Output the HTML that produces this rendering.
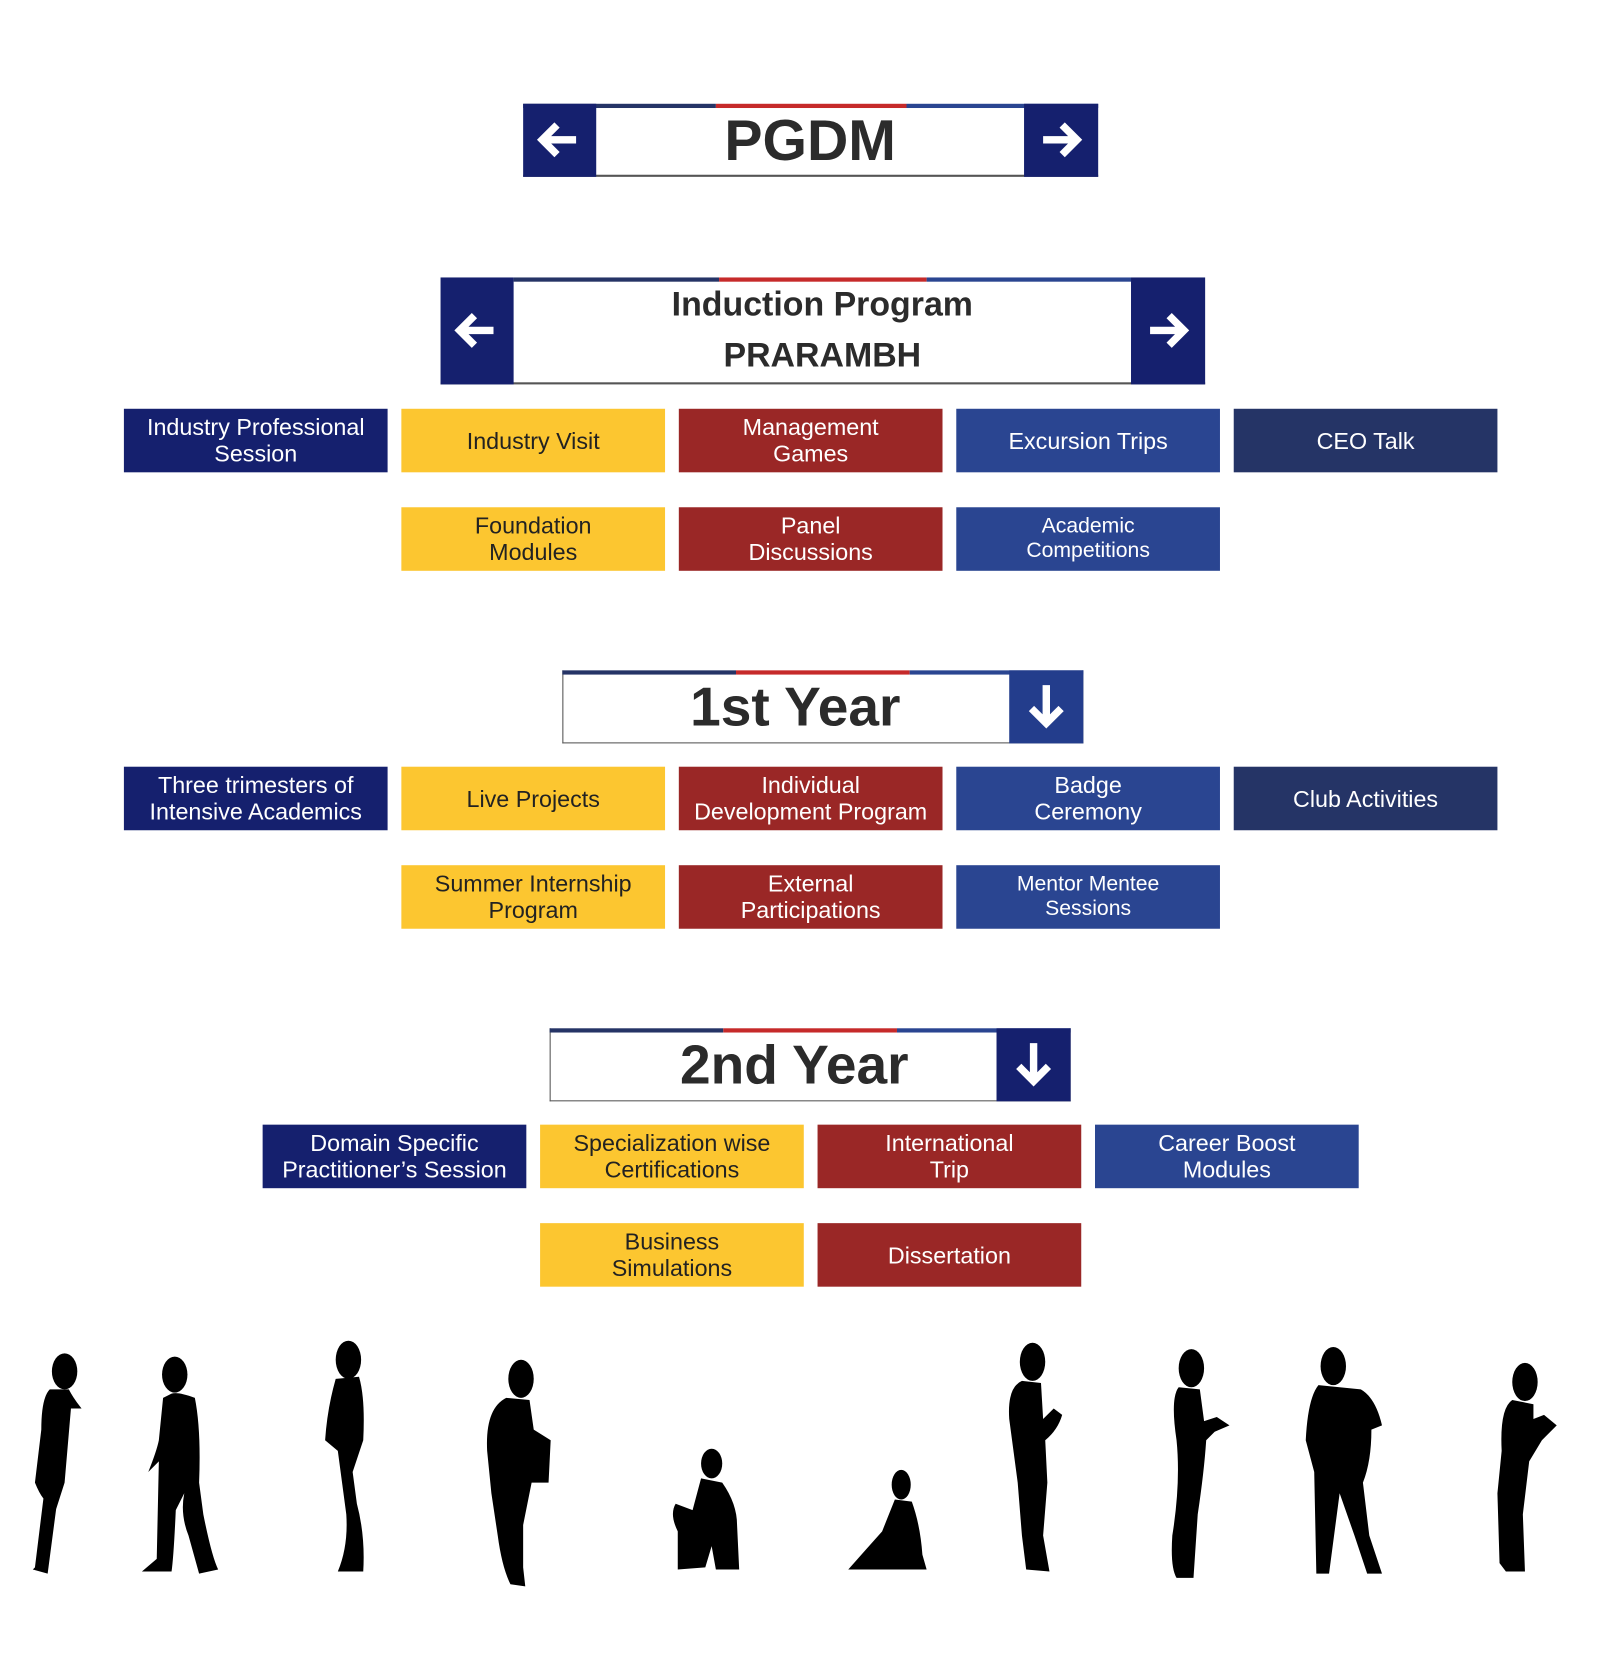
<!DOCTYPE html>
<html><head><meta charset="utf-8"><style>
html,body{margin:0;padding:0;background:#fff;width:1600px;height:1660px;overflow:hidden}
#s{position:absolute;left:0;top:0;width:1511px;height:1568px;transform:scale(1.059);transform-origin:0 0;font-family:"Liberation Sans","DejaVu Sans",sans-serif}
.b{position:absolute;width:249px;height:60px;display:flex;align-items:center;justify-content:center;text-align:center;font-size:22px;line-height:25px;color:#fff}
.n{background:#15206e}.y{background:#fcc630;color:#222}.r{background:#9a2726}.l{background:#2a4591}.d{background:#253466}
.hdr{position:absolute;background:#fff;border-bottom:2px solid #555;box-sizing:border-box}
.strip{position:absolute;height:4px}
.blk{position:absolute;background:#15206e}
.t{position:absolute;font-weight:bold;color:#2b2b2b;text-align:center;white-space:nowrap}
</style></head><body><div id="s">
<div class="hdr" style="left:494px;top:98px;width:543px;height:69px"></div>
<div class="strip" style="left:494px;top:98px;width:182px;background:#253466"></div>
<div class="strip" style="left:676px;top:98px;width:180px;background:#c62a2a"></div>
<div class="strip" style="left:856px;top:98px;width:181px;background:#2a4591"></div>
<div class="blk" style="left:494px;top:98px;width:69px;height:69px"></div>
<div class="blk" style="left:967px;top:98px;width:70px;height:69px"></div>
<svg style="position:absolute;left:494px;top:98px" width="69" height="69"><path d="M50 34H20M32 20L18 34L32 48" stroke="#fff" stroke-width="7" fill="none"/></svg>
<svg style="position:absolute;left:967px;top:98px" width="70" height="69"><path d="M18 34H48M36 20L50 34L36 48" stroke="#fff" stroke-width="7" fill="none"/></svg>
<div class="t" style="left:563px;top:102px;width:404px;font-size:54px;line-height:62px">PGDM</div>
<div class="hdr" style="left:416px;top:262px;width:722px;height:101px"></div>
<div class="strip" style="left:485px;top:262px;width:194px;background:#253466"></div>
<div class="strip" style="left:679px;top:262px;width:196px;background:#c62a2a"></div>
<div class="strip" style="left:875px;top:262px;width:193px;background:#2a4591"></div>
<div class="blk" style="left:416px;top:262px;width:69px;height:101px"></div>
<div class="blk" style="left:1068px;top:262px;width:70px;height:101px"></div>
<svg style="position:absolute;left:416px;top:262px" width="69" height="101"><path d="M50 50H20M32 36L18 50L32 64" stroke="#fff" stroke-width="7" fill="none"/></svg>
<svg style="position:absolute;left:1068px;top:262px" width="70" height="101"><path d="M18 50H48M36 36L50 50L36 64" stroke="#fff" stroke-width="7" fill="none"/></svg>
<div class="t" style="left:485px;top:267px;width:583px;font-size:32px;line-height:40px">Induction Program</div>
<div class="t" style="left:485px;top:315px;width:583px;font-size:32px;line-height:40px">PRARAMBH</div>
<div class="b n" style="left:117px;top:386px">Industry Professional<br>Session</div>
<div class="b y" style="left:379px;top:386px">Industry Visit</div>
<div class="b r" style="left:641px;top:386px">Management<br>Games</div>
<div class="b l" style="left:903px;top:386px">Excursion Trips</div>
<div class="b d" style="left:1165px;top:386px">CEO Talk</div>
<div class="b y" style="left:379px;top:479px">Foundation<br>Modules</div>
<div class="b r" style="left:641px;top:479px">Panel<br>Discussions</div>
<div class="b l" style="left:903px;top:479px;font-size:20px;line-height:23px">Academic<br>Competitions</div>
<div class="hdr" style="left:531px;top:633px;width:492px;height:69px;border:1px solid #555;border-top:none"></div>
<div class="strip" style="left:531px;top:633px;width:164px;background:#253466"></div>
<div class="strip" style="left:695px;top:633px;width:164px;background:#c62a2a"></div>
<div class="strip" style="left:859px;top:633px;width:164px;background:#2a4591"></div>
<div class="blk" style="left:953px;top:633px;width:70px;height:69px;background:#233d8c"></div>
<svg style="position:absolute;left:953px;top:633px" width="70" height="69"><path d="M35 14V48M21 36L35 50L49 36" stroke="#fff" stroke-width="7" fill="none"/></svg>
<div class="t" style="left:531px;top:637px;width:440px;font-size:52px;line-height:62px">1st Year</div>
<div class="b n" style="left:117px;top:724px">Three trimesters of<br>Intensive Academics</div>
<div class="b y" style="left:379px;top:724px">Live Projects</div>
<div class="b r" style="left:641px;top:724px">Individual<br>Development Program</div>
<div class="b l" style="left:903px;top:724px">Badge<br>Ceremony</div>
<div class="b d" style="left:1165px;top:724px">Club Activities</div>
<div class="b y" style="left:379px;top:817px">Summer Internship<br>Program</div>
<div class="b r" style="left:641px;top:817px">External<br>Participations</div>
<div class="b l" style="left:903px;top:817px;font-size:20px;line-height:23px">Mentor Mentee<br>Sessions</div>
<div class="hdr" style="left:519px;top:971px;width:492px;height:69px;border:1px solid #555;border-top:none"></div>
<div class="strip" style="left:519px;top:971px;width:164px;background:#253466"></div>
<div class="strip" style="left:683px;top:971px;width:164px;background:#c62a2a"></div>
<div class="strip" style="left:847px;top:971px;width:164px;background:#2a4591"></div>
<div class="blk" style="left:941px;top:971px;width:70px;height:69px"></div>
<svg style="position:absolute;left:941px;top:971px" width="70" height="69"><path d="M35 14V48M21 36L35 50L49 36" stroke="#fff" stroke-width="7" fill="none"/></svg>
<div class="t" style="left:519px;top:975px;width:462px;font-size:52px;line-height:62px">2nd Year</div>
<div class="b n" style="left:248px;top:1062px">Domain Specific<br>Practitioner’s Session</div>
<div class="b y" style="left:510px;top:1062px">Specialization wise<br>Certifications</div>
<div class="b r" style="left:772px;top:1062px">International<br>Trip</div>
<div class="b l" style="left:1034px;top:1062px">Career Boost<br>Modules</div>
<div class="b y" style="left:510px;top:1155px">Business<br>Simulations</div>
<div class="b r" style="left:772px;top:1155px">Dissertation</div>
<svg style="position:absolute;left:0;top:1250px" width="1500" height="260" fill="#000">
<g transform="translate(55,0)"><ellipse cx="6" cy="45" rx="12" ry="17"/><path d="M-8 62 Q-16 70 -16 100 L-22 150 Q-18 160 -14 165 L-22 230 L-24 232 L-10 236 L-2 175 L6 150 L12 80 L22 80 Q14 70 10 62Z"/></g>
<g transform="translate(170,0)"><ellipse cx="-5" cy="48" rx="12" ry="17"/><path d="M-8 66 Q-2 64 14 70 Q20 100 18 150 L22 180 Q30 220 36 232 L18 236 L8 200 Q0 180 4 160 L-4 176 Q-6 220 -8 234 L-36 234 L-22 222 L-20 130 L-30 140 Q-22 120 -20 110 L-16 70Z"/></g>
<g transform="translate(325,0)"><ellipse cx="4" cy="34" rx="12" ry="18"/><path d="M-8 52 L14 50 Q20 70 18 110 L8 140 L12 170 Q20 200 18 234 L-6 234 Q4 210 2 180 L-6 120 L-18 110 Q-16 80 -8 52Z"/></g>
<g transform="translate(490,0)"><ellipse cx="2" cy="52" rx="12" ry="18"/><path d="M-12 70 Q-32 80 -30 120 L-26 160 L-20 200 Q-16 230 -8 246 L6 248 L4 230 L4 190 L12 150 L28 150 L30 110 L14 100 L10 72Z"/></g>
<g transform="translate(668,0)"><ellipse cx="4" cy="132" rx="10" ry="14"/><path d="M-6 146 L14 150 Q28 170 28 190 L30 232 L8 232 L4 210 L-2 230 L-28 232 L-28 196 Q-36 180 -30 170 L-14 176Z"/></g>
<g transform="translate(845,0)"><ellipse cx="6" cy="152" rx="9" ry="14"/><path d="M0 166 L16 168 Q24 190 26 218 L30 232 L-44 232 L-28 214 L-12 196 Q-4 176 0 166Z"/></g>
<g transform="translate(975,0)"><ellipse cx="0" cy="36" rx="12" ry="18"/><path d="M-10 54 Q-24 60 -22 90 L-14 150 L-10 200 L-6 232 L16 234 L10 200 L14 150 L12 110 Q24 100 28 86 L20 80 L10 90 L8 56Z"/></g>
<g transform="translate(1125,0)"><ellipse cx="0" cy="42" rx="12" ry="18"/><path d="M-12 60 Q-20 70 -14 110 Q-10 150 -18 200 Q-20 230 -14 240 L2 240 L6 180 Q12 140 14 110 L22 102 L36 96 L24 88 L12 92 L8 62Z"/></g>
<g transform="translate(1265,0)"><ellipse cx="-6" cy="40" rx="12" ry="18"/><path d="M-20 58 Q-30 70 -32 110 L-24 140 L-22 236 L-10 236 L0 160 L14 200 L26 236 L40 236 L28 200 L22 150 Q30 130 30 100 L40 96 Q34 70 20 62Z"/></g>
<g transform="translate(1440,0)"><ellipse cx="0" cy="55" rx="12" ry="18"/><path d="M-12 72 Q-24 80 -22 120 L-26 160 L-24 226 L-18 234 L0 234 L-2 180 L4 130 L16 110 L30 96 L18 86 L8 90 L8 76Z"/></g>
</svg>
</div></body></html>
